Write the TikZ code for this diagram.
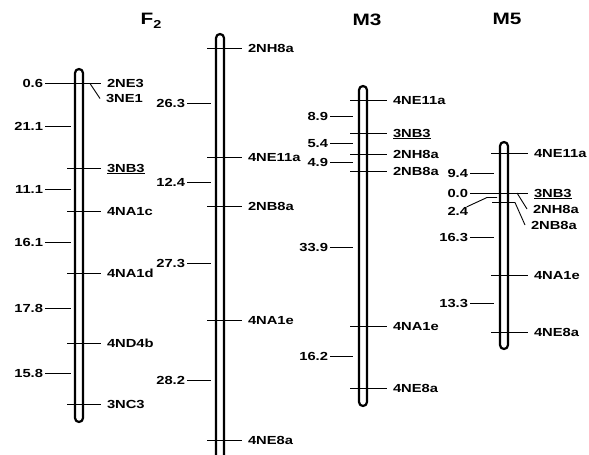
\documentclass[tikz,border=0pt]{standalone}
\usepackage{fontspec}
\setmainfont{Liberation Sans}[FakeStretch=1.26]
\begin{document}
\begin{tikzpicture}[x=1pt,y=-1pt,
  chrom/.style={draw, line width=2.2pt, fill=white, rounded corners=4pt, minimum width=8pt, inner sep=0pt, outer sep=0pt},
  tick/.style={line width=0.9pt},
  mk/.style={font=\bfseries\fontsize{11.7}{12}\selectfont, anchor=west, inner sep=0pt, outer xsep=6pt, outer ysep=0pt, text height=8.3pt, text depth=0pt},
  dist/.style={mk, anchor=east, outer xsep=2pt},
  ttl/.style={font=\bfseries\fontsize{16.5}{18}\selectfont, inner sep=0pt}]
\clip (0,0) rectangle (589,455);
\fill[white] (0,0) rectangle (589,455);
% titles
\node[ttl] (tF) at (151,21) {F\raisebox{-4pt}{\fontsize{11.5}{12}\selectfont 2}};
\node[ttl] (tM3) at (367,20) {M3};
\node[ttl] (tM5) at (507,19) {M5};
% chromosomes
\node[chrom, minimum height=353pt] (c1) at (79,245.5) {};
\node[chrom, minimum height=446pt] (c2) at (220,257) {};
\node[chrom, minimum height=320pt] (c3) at (363,246) {};
\node[chrom, minimum height=207pt] (c4) at (504,245.5) {};
% ---- chromosome 1 (F2)
\foreach \n/\y/\t in {a/83/2NE3, c/168/\underline{3NB3}, d/211/4NA1c, e/273/4NA1d, f/343/4ND4b, g/404/3NC3}{
  \coordinate (t1\n) at (67,\y);
  \node[mk] (m1\n) at (101,\y) {\t};
  \draw[tick] (t1\n) -- (m1\n);
}
\coordinate (l1) at (90,83.5);
\node[mk] (m1b) at (100,98.5) {3NE1};
\draw[tick] (l1) -- (m1b.west);
\node[dist] (d1a) at (45,83) {0.6};
\draw[tick] (d1a) -- (t1a);
\foreach \n/\y/\t in {b/126/21.1, c/189/11.1, d/242/16.1, e/308/17.8, f/373/15.8}{
  \node[dist] (d1\n) at (45,\y) {\t};
  \coordinate (e1\n) at (71,\y);
  \draw[tick] (d1\n) -- (e1\n);
}
% ---- chromosome 2 (F2)
\foreach \n/\y/\t in {a/48/2NH8a, b/157/4NE11a, c/206/2NB8a, d/320/4NA1e, e/440/4NE8a}{
  \coordinate (t2\n) at (207,\y);
  \node[mk] (m2\n) at (242,\y) {\t};
  \draw[tick] (t2\n) -- (m2\n);
}
\foreach \n/\y/\t in {a/103/26.3, b/182/12.4, c/263/27.3, d/380/28.2}{
  \node[dist] (d2\n) at (187,\y) {\t};
  \coordinate (e2\n) at (211,\y);
  \draw[tick] (d2\n) -- (e2\n);
}
% ---- chromosome 3 (M3)
\foreach \n/\y/\t in {a/100/4NE11a, b/133/\underline{3NB3}, c/154/2NH8a, d/171/2NB8a, e/326/4NA1e, f/388/4NE8a}{
  \coordinate (t3\n) at (350,\y);
  \node[mk] (m3\n) at (387,\y) {\t};
  \draw[tick] (t3\n) -- (m3\n);
}
\foreach \n/\y/\t in {a/116/8.9, b/143/5.4, c/162/4.9, d/247/33.9, e/356/16.2}{
  \node[dist] (d3\n) at (330,\y) {\t};
  \coordinate (e3\n) at (353,\y);
  \draw[tick] (d3\n) -- (e3\n);
}
% ---- chromosome 4 (M5)
\foreach \n/\y/\t in {a/153/4NE11a, b/193/\underline{3NB3}, e/275/4NA1e, f/332/4NE8a}{
  \coordinate (t4\n) at (491,\y);
  \node[mk] (m4\n) at (528,\y) {\t};
  \draw[tick] (t4\n) -- (m4\n);
}
\coordinate (l4c) at (517,193);
\node[mk] (m4c) at (527,209) {2NH8a};
\draw[tick] (l4c) -- (m4c.west);
\coordinate (t4d) at (492,202.5);
\coordinate (l4d) at (515,202.5);
\node[mk] (m4d) at (525,225) {2NB8a};
\draw[tick] (t4d) -- (l4d) -- (m4d.west);
\node[dist] (d4b) at (470,193) {0.0};
\draw[tick] (d4b) -- (t4b);
\node[dist] (d4c) at (470,211) {2.4};
\coordinate (k4a) at (487,197.5);
\coordinate (k4b) at (497,197.5);
\draw[tick] (d4c) -- (k4a) -- (k4b);
\foreach \n/\y/\t in {a/173/9.4, d/237/16.3, e/303/13.3}{
  \node[dist] (d4\n) at (470,\y) {\t};
  \coordinate (e4\n) at (494,\y);
  \draw[tick] (d4\n) -- (e4\n);
}
\end{tikzpicture}
\end{document}
